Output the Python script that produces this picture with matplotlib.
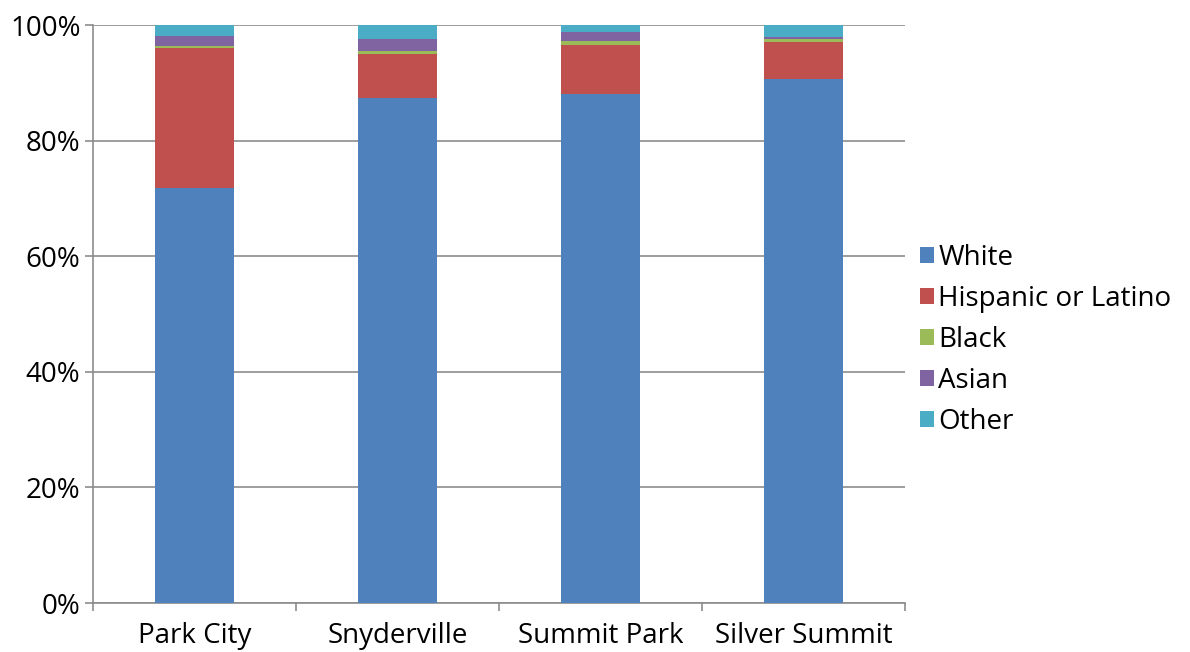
import matplotlib
matplotlib.use("Agg")
import matplotlib.pyplot as plt
import numpy as np

plt.rcParams['font.family'] = ['Open Sans', 'DejaVu Sans']

places = ["Park City", "Snyderville", "Summit Park", "Silver Summit"]
white = [71.8, 87.3, 88.0, 90.6]
hispanic = [24.2, 7.7, 8.6, 6.5]
black = [0.3, 0.5, 0.6, 0.5]
asian = [1.8, 2.0, 1.6, 0.4]
other = [1.9, 2.5, 1.2, 2.0]

series = [("White", white, "#4F81BD"),
          ("Hispanic or Latino", hispanic, "#C0504D"),
          ("Black", black, "#9BBB59"),
          ("Asian", asian, "#8064A2"),
          ("Other", other, "#4BACC6")]

fig = plt.figure(figsize=(11.9, 6.52), dpi=100)
ax = fig.add_axes([93/1190, 1 - 603/652, 812/1190, 578/652])

x = np.arange(len(places))
bottom = np.zeros(len(places))
for name, vals, col in series:
    ax.bar(x, vals, 0.39, bottom=bottom, color=col, label=name, zorder=3)
    bottom += np.array(vals)

ax.set_xlim(-0.5, 3.5)
ax.set_ylim(0, 100)
ax.set_yticks(np.arange(0, 101, 20))
ax.set_yticklabels([f"{v}%" for v in range(0, 101, 20)])
ax.yaxis.grid(True, color="#8c8c8c", linewidth=1.2, zorder=0)

ax.set_xticks(x)
ax.set_xticklabels(places)
ax.set_xticks(np.arange(-0.5, 4, 1), minor=True)
ax.tick_params(axis="x", which="major", length=0, pad=14, labelsize=20)
ax.tick_params(axis="x", which="minor", length=6, color="#8c8c8c", width=1.2)
ax.tick_params(axis="y", length=6, color="#8c8c8c", width=1.2, labelsize=20, pad=3)

for s in ["top", "right"]:
    ax.spines[s].set_visible(False)
for s in ["left", "bottom"]:
    ax.spines[s].set_color("#8c8c8c")
    ax.spines[s].set_linewidth(1.2)

ax.legend(loc="center left", bbox_to_anchor=(1.0, 0.455), frameon=False,
          fontsize=20, handlelength=0.5, handleheight=0.5, handletextpad=0.15,
          labelspacing=0.47, borderaxespad=0.15)

fig.savefig("out.png", dpi=100)
